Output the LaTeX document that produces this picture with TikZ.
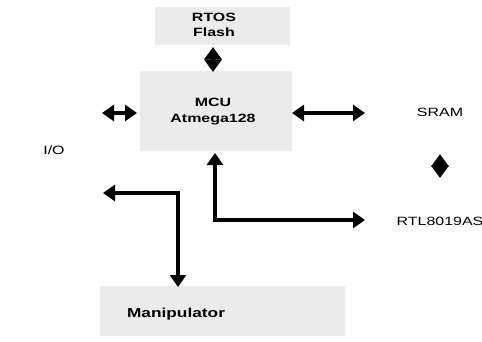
\documentclass[tikz,border=0pt]{standalone}
\usepackage{fontspec}
\usetikzlibrary{arrows.meta}
\newfontfamily\lbl[FakeStretch=1.33]{Liberation Sans}
\tikzset{
  graybox/.style={fill=black!8, draw=none, inner sep=0pt},
  lbltext/.style={font=\lbl\fontsize{12}{14}\selectfont, inner sep=0pt, align=center, text=black},
  boldtext/.style={font=\lbl\bfseries\fontsize{12}{15}\selectfont, inner sep=0pt, align=center, text=black},
  dblarrow/.style={line width=4pt, {Triangle[length=12pt,width=16pt]}-{Triangle[length=12pt,width=16pt]}},
  headpair/.style={line width=4pt, {Triangle[length=12.5pt,width=17pt]}-{Triangle[length=12.5pt,width=17pt]}}
}
\begin{document}
\begin{tikzpicture}[x=1pt,y=-1pt]
\useasboundingbox (0,0) rectangle (482,341);
% gray backgrounds
\node[graybox, minimum width=135pt, minimum height=38pt] (flashbg) at (222,26) {};
\node[graybox, minimum width=152pt, minimum height=80pt] (mcubg) at (216,111) {};
\node[graybox, minimum width=245pt, minimum height=50pt] (manbg) at (222,311) {};
% labels
\node[boldtext] (flash) at (214,25) {RTOS\\Flash};
\node[boldtext] (mcu) at (213,112) {MCU\\[1pt]Atmega128};
\node[lbltext] (sram) at (440,112) {SRAM};
\node[lbltext] (rtl) at (440,221) {RTL8019AS};
\node[lbltext] (io) at (54,150) {I/O};
\node[font=\lbl\bfseries\fontsize{13}{15}\selectfont, inner sep=0pt] (man) at (176,314) {Manipulator};
% connector end points
\coordinate (fA) at (213,47);
\coordinate (fB) at (213,72);
\coordinate (ioA) at (102,113);
\coordinate (ioB) at (137,113);
\coordinate (sA) at (292,113);
\coordinate (sB) at (365,113);
\coordinate (rA) at (440,154);
\coordinate (rB) at (440,178);
\coordinate (lTop) at (215,153);
\coordinate (lCorner) at (215,220);
\coordinate (lEnd) at (365,220);
\coordinate (mLeft) at (103,193);
\coordinate (mCorner) at (178,193);
\coordinate (mBot) at (178,287);
% connectors
\draw[headpair] (fA) -- (fB);
\draw[dblarrow] (ioA) -- (ioB);
\draw[dblarrow] (sA) -- (sB);
\draw[headpair] (rA) -- (rB);
\draw[dblarrow] (lTop) -- (lCorner) -- (lEnd);
\draw[dblarrow] (mLeft) -- (mCorner) -- (mBot);
\end{tikzpicture}
\end{document}
